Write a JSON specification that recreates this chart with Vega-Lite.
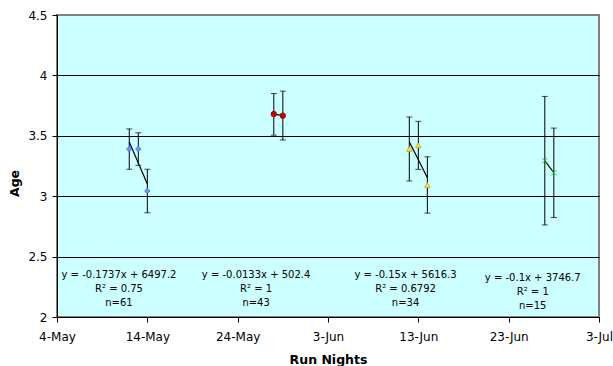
{
  "$schema": "https://vega.github.io/schema/vega-lite/v6.json",
  "width": 542,
  "height": 302,
  "autosize": {"type": "none"},
  "padding": {"left": 57, "top": 15, "right": 14, "bottom": 49},
  "background": "white",
  "config": {
    "view": {"fill": "#CCFFFF", "stroke": "#808080", "strokeWidth": 2},
    "font": "DejaVu Sans"
  },
  "data": {
    "values": [
      {"cluster": "A", "date": "2008/05/12", "age": 3.39, "lo": 3.223, "hi": 3.557},
      {"cluster": "A", "date": "2008/05/13", "age": 3.39, "lo": 3.255, "hi": 3.525},
      {"cluster": "A", "date": "2008/05/14", "age": 3.043, "lo": 2.863, "hi": 3.223},
      {"cluster": "B", "date": "2008/05/28", "age": 3.68, "lo": 3.505, "hi": 3.85},
      {"cluster": "B", "date": "2008/05/29", "age": 3.667, "lo": 3.465, "hi": 3.87},
      {"cluster": "C", "date": "2008/06/12", "age": 3.391, "lo": 3.126, "hi": 3.656},
      {"cluster": "C", "date": "2008/06/13", "age": 3.421, "lo": 3.222, "hi": 3.62},
      {"cluster": "C", "date": "2008/06/14", "age": 3.093, "lo": 2.86, "hi": 3.326},
      {"cluster": "D", "date": "2008/06/27", "age": 3.294, "lo": 2.762, "hi": 3.826},
      {"cluster": "D", "date": "2008/06/28", "age": 3.194, "lo": 2.824, "hi": 3.564}
    ],
    "format": {"parse": {"date": "date"}}
  },
  "layer": [
    {
      "mark": {"type": "rule", "color": "black", "strokeWidth": 1},
      "encoding": {
        "x": {
          "field": "date", "type": "temporal",
          "scale": {"domain": [{"year": 2008, "month": 5, "date": 4}, {"year": 2008, "month": 7, "date": 3}], "nice": false},
          "axis": {
            "values": [
              {"year": 2008, "month": 5, "date": 4},
              {"year": 2008, "month": 5, "date": 14},
              {"year": 2008, "month": 5, "date": 24},
              {"year": 2008, "month": 6, "date": 3},
              {"year": 2008, "month": 6, "date": 13},
              {"year": 2008, "month": 6, "date": 23},
              {"year": 2008, "month": 7, "date": 3}
            ],
            "format": "%-d-%b",
            "grid": false,
            "domainColor": "black",
            "tickColor": "black",
            "tickSize": 5,
            "labelColor": "black",
            "labelFontSize": 12,
            "labelPadding": 9,
            "labelFlush": false,
            "labelOverlap": false,
            "title": "Run Nights",
            "titleFontSize": 12.5,
            "titleFontWeight": "bold",
            "titleColor": "black",
            "titleY": 42,
            "titleBaseline": "middle"
          }
        },
        "y": {
          "field": "lo", "type": "quantitative",
          "scale": {"domain": [2, 4.5], "nice": false, "zero": false},
          "axis": {
            "values": [2, 2.5, 3, 3.5, 4, 4.5],
            "format": "~g",
            "grid": true,
            "gridColor": {"condition": {"test": "datum.value == 4.5", "value": "#808080"}, "value": "black"},
            "gridWidth": 1,
            "domainColor": "black",
            "tickColor": "black",
            "tickSize": 5,
            "labelColor": "black",
            "labelFontSize": 12,
            "labelPadding": 5,
            "title": "Age",
            "titleFontSize": 12.5,
            "titleFontWeight": "bold",
            "titleColor": "black",
            "titleX": -43,
            "titleY": 168,
            "titleAngle": -90,
            "titleAlign": "center",
            "titleBaseline": "middle"
          }
        },
        "y2": {"field": "hi"}
      }
    },
    {
      "mark": {"type": "tick", "orient": "horizontal", "color": "black", "size": 6, "thickness": 1},
      "encoding": {
        "x": {"field": "date", "type": "temporal"},
        "y": {"field": "lo", "type": "quantitative"}
      }
    },
    {
      "mark": {"type": "tick", "orient": "horizontal", "color": "black", "size": 6, "thickness": 1},
      "encoding": {
        "x": {"field": "date", "type": "temporal"},
        "y": {"field": "hi", "type": "quantitative"}
      }
    },
    {
      "transform": [{"regression": "age", "on": "date", "groupby": ["cluster"]}],
      "mark": {"type": "line", "color": "black", "strokeWidth": 1.2},
      "encoding": {
        "x": {"field": "date", "type": "temporal"},
        "y": {"field": "age", "type": "quantitative"},
        "detail": {"field": "cluster"}
      }
    },
    {
      "mark": {"type": "point", "filled": true, "size": 30, "opacity": 1},
      "encoding": {
        "x": {"field": "date", "type": "temporal"},
        "y": {"field": "age", "type": "quantitative"},
        "shape": {"field": "cluster", "type": "nominal", "scale": {"domain": ["A", "B", "C", "D"], "range": ["diamond", "circle", "triangle-up", "M-1,-1L1,1M1,-1L-1,1"]}, "legend": null},
        "fill": {"field": "cluster", "type": "nominal", "scale": {"domain": ["A", "B", "C", "D"], "range": ["#6699FF", "#CC0000", "#FFE066", "#33CC33"]}, "legend": null},
        "stroke": {"field": "cluster", "type": "nominal", "scale": {"domain": ["A", "B", "C", "D"], "range": ["#3366CC", "#800000", "#C8A000", "#22BB22"]}, "legend": null},
        "strokeWidth": {"field": "cluster", "type": "nominal", "scale": {"domain": ["A", "B", "C", "D"], "range": [0.8, 0.8, 0.8, 1.6]}, "legend": null}
      }
    },
    {
      "data": {
        "values": [
          {"date": "2008/05/10 20:40", "value": 2.39, "label": "y = -0.1737x + 6497.2\nR² = 0.75\nn=61"},
          {"date": "2008/05/26 01:00", "value": 2.39, "label": "y = -0.0133x + 502.4\nR² = 1\nn=43"},
          {"date": "2008/06/11 14:00", "value": 2.39, "label": "y = -0.15x + 5616.3\nR² = 0.6792\nn=34"},
          {"date": "2008/06/25 16:00", "value": 2.365, "label": "y = -0.1x + 3746.7\nR² = 1\nn=15"}
        ],
        "format": {"parse": {"date": "date"}}
      },
      "mark": {"type": "text", "align": "center", "baseline": "top", "fontSize": 10, "lineHeight": 14, "lineBreak": "\n", "color": "black"},
      "encoding": {
        "x": {"field": "date", "type": "temporal"},
        "y": {"field": "value", "type": "quantitative"},
        "text": {"field": "label"}
      }
    }
  ]
}
